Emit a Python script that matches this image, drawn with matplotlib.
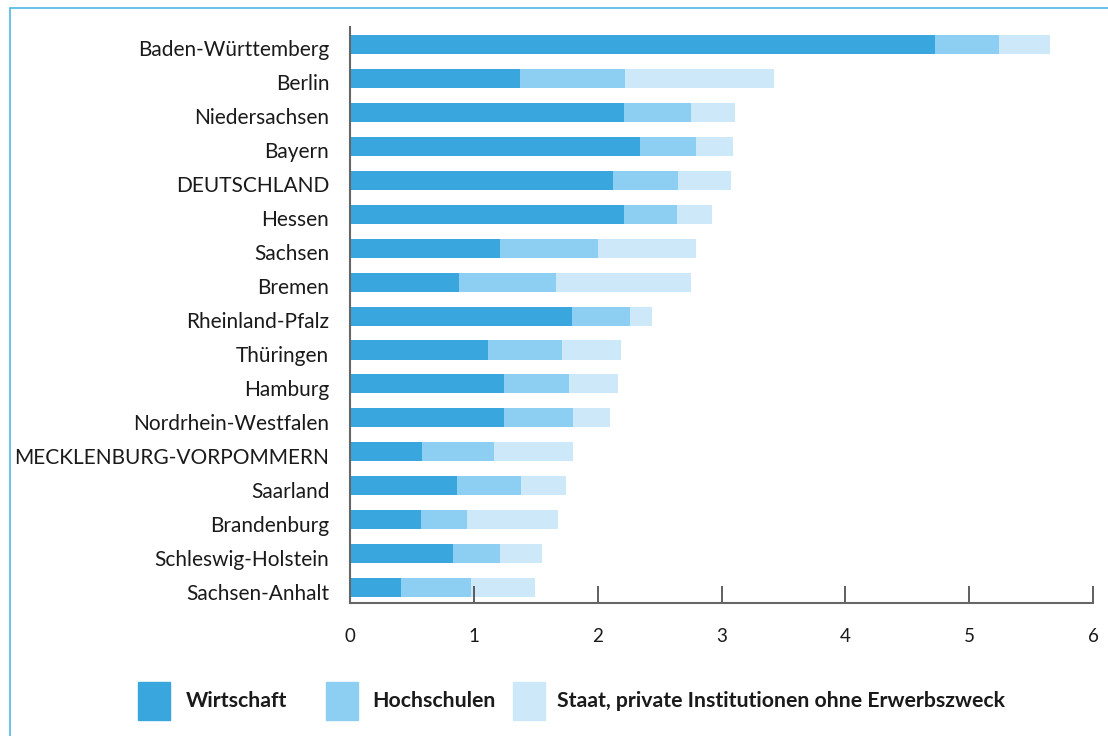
import numpy as np
import matplotlib.pyplot as plt
from matplotlib.patches import Rectangle
from matplotlib.transforms import ScaledTranslation

plt.rcParams['font.family'] = ['Lato', 'DejaVu Sans']

laender = ['Baden-Württemberg', 'Berlin', 'Niedersachsen', 'Bayern', 'DEUTSCHLAND',
           'Hessen', 'Sachsen', 'Bremen', 'Rheinland-Pfalz', 'Thüringen', 'Hamburg',
           'Nordrhein-Westfalen', 'MECKLENBURG-VORPOMMERN', 'Saarland', 'Brandenburg',
           'Schleswig-Holstein', 'Sachsen-Anhalt']
wirtschaft = [4.72, 1.37, 2.21, 2.34, 2.12, 2.21, 1.21, 0.88, 1.79, 1.11, 1.24,
              1.24, 0.58, 0.86, 0.57, 0.83, 0.41]
hochschulen = [0.52, 0.85, 0.54, 0.45, 0.53, 0.43, 0.79, 0.78, 0.47, 0.60, 0.53,
               0.56, 0.58, 0.52, 0.37, 0.38, 0.57]
staat = [0.41, 1.20, 0.36, 0.30, 0.43, 0.28, 0.79, 1.09, 0.18, 0.48, 0.39,
         0.30, 0.64, 0.36, 0.74, 0.34, 0.51]
serien = ['Wirtschaft', 'Hochschulen', 'Staat, private Institutionen ohne Erwerbszweck']
farben = ['#3aa6de', '#8dcff3', '#cce8f9']

fig = plt.figure(figsize=(11.08, 7.36), dpi=100)
ax = fig.add_axes([0.316, 0.181, 0.6705, 0.782])

y = np.arange(len(laender))
w = np.array(wirtschaft)
h = np.array(hochschulen)
s = np.array(staat)
ax.barh(y, w, height=0.56, color=farben[0])
ax.barh(y, h, left=w, height=0.56, color=farben[1])
ax.barh(y, s, left=w + h, height=0.56, color=farben[2])

ax.set_ylim(16.44, -0.5)
ax.set_xlim(0, 6)
ax.set_yticks(y)
ax.set_yticklabels(laender, fontsize=15, color='#1a1a1a')
ax.set_xticks(range(7))
ax.tick_params(axis='y', length=0, pad=15)
ax.tick_params(axis='x', direction='in', length=12, width=1.2, color='#444444',
               labelsize=13.5, labelcolor='#1a1a1a', pad=18)
# Beschriftungen leicht nach unten
off = ScaledTranslation(0, -4 / 100, fig.dpi_scale_trans)
for lab in ax.get_yticklabels():
    lab.set_transform(lab.get_transform() + off)
for sp in ['top', 'right']:
    ax.spines[sp].set_visible(False)
for sp in ['left', 'bottom']:
    ax.spines[sp].set_color('#666666')
    ax.spines[sp].set_linewidth(1.5)

# legend
pos = [(138, 186), (326, 372), (513, 557)]
for (px, tx), name, col in zip(pos, serien, farben):
    fig.patches.append(Rectangle((px / 1108, 1 - 720 / 736), 32 / 1108, 38 / 736,
                                 transform=fig.transFigure, color=col))
    fig.text(tx / 1108, 1 - 701 / 736, name, fontsize=15.3, fontweight='bold',
             va='center', ha='left', color='#1a1a1a')

# frame
fig.patches.append(Rectangle((10 / 1108, -0.1), 1.2, 1 - 8 / 736 + 0.1,
                             transform=fig.transFigure, fill=False,
                             edgecolor='#4db8e8', linewidth=1.2))

fig.savefig('out.png', dpi=100)
